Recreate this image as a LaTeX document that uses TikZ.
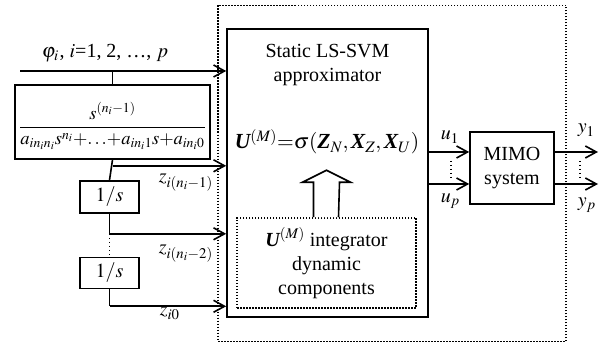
\documentclass[tikz,border=0pt]{standalone}
\usepackage{amsmath}
\usepackage{mathptmx}
\usepackage{fontspec}
\setmainfont{Liberation Serif}
\usetikzlibrary{arrows.meta,calc}
\newcommand{\tbi}[1]{\text{\bfseries\itshape #1}}
\begin{document}
\begin{tikzpicture}[x=1pt,y=-1pt, line width=1.6pt,
  >={Straight Barb[length=11pt,width=12pt,line width=1.6pt]},
  box/.style={draw, line width=1.6pt, inner sep=0pt, font=\fontsize{20}{24}\selectfont, align=center},
  dotbox/.style={draw, line width=1.5pt, dash pattern=on 1.5pt off 1.5pt},
  dotline/.style={line width=1.5pt, dash pattern=on 1.5pt off 2.5pt},
  lbl/.style={font=\fontsize{20}{24}\selectfont, inner sep=0pt},
]
\useasboundingbox (0,0) rectangle (600,344);
% frames
\node[dotbox, minimum width=348pt, minimum height=336pt] (outer) at (392,173.5) {};
\node[box, minimum width=201pt, minimum height=288pt] (svm) at (327.5,173) {};
\node[dotbox, minimum width=179pt, minimum height=90pt] (inner) at (326.5,263) {};
\node[box, minimum width=195pt, minimum height=74pt] (tf) at (112.5,122) {};
\node[box, minimum width=59pt, minimum height=32pt] (int1) at (109.5,197) {$1/s$};
\node[box, minimum width=59pt, minimum height=31pt] (int2) at (109.5,273) {$1/s$};
\node[box, minimum width=84pt, minimum height=72pt] (mimo) at (512,168) {MIMO\\system};
% texts
\node[lbl, font=\fontsize{18.5}{22}\selectfont] (frac) at (112.5,126) {$\dfrac{s^{(n_i-1)}}{a_{in_in_i}s^{n_i}{+}{\ldots}{+}a_{in_i1}s{+}a_{in_i0}}$};
\node[lbl, align=center] (svmtxt) at (327.5,65) {Static LS-SVM\\approximator};
\node[lbl, anchor=base, font=\fontsize{21.5}{24}\selectfont] (form) at (327,149) {$\tbi{U}^{(M)}{=}\sigma(\tbi{Z}_N,\tbi{X}_Z,\tbi{X}_U)$};
\node[lbl, align=center] (intxt) at (326.5,263) {$\tbi{U}^{(M)}$ integrator\\dynamic\\components};
\node[lbl, anchor=base] (phil) at (105,58) {$\varphi_i$\kern1pt, $i$=1, 2, \dots, $p$};
\node[lbl, anchor=base west] (z1) at (158,183) {$z_{i(n_i-1)}$};
\node[lbl, anchor=base west] (z2) at (158,254) {$z_{i(n_i-2)}$};
\node[lbl, anchor=base west] (z0) at (159,316) {$z_{i0}$};
\node[lbl, anchor=base west] (u1l) at (440,140) {$u_1$};
\node[lbl, anchor=base west] (upl) at (440,203) {$u_p$};
\node[lbl, anchor=base west] (y1l) at (577,133) {$y_1$};
\node[lbl, anchor=base west] (ypl) at (577,207) {$y_p$};
% coordinates
\coordinate (phistart) at (20,71);
\coordinate (j0) at (tf.north |- phistart);
\coordinate (j1) at ($(tf.south)+(0,6)$);
\coordinate (j2) at ($(int1.south)+(0,20)$);
\coordinate (j3) at ($(int2.south)+(0,17)$);
\coordinate (u1) at ([yshift=16pt]mimo.west);
\coordinate (up) at ([yshift=-16pt]mimo.west);
\coordinate (y1) at (598,152);
\coordinate (yp) at (598,184);
% input connectors
\draw[->] (phistart) -- (phistart -| svm.west);
\draw (j0) -- (tf.north);
\draw (tf.south) -- (int1.north);
\draw[->] (j1) -- (j1 -| svm.west);
\draw (int1.south) -- (j2);
\draw[->] (j2) -- (j2 -| svm.west);
\draw[dotline] (j2) -- (int2.north);
\draw (int2.south) -- (j3);
\draw[->] (j3) -- (j3 -| svm.west);
% outputs
\draw[->] (u1 -| svm.east) -- (u1);
\draw[->] (up -| svm.east) -- (up);
\draw[->] (u1 -| mimo.east) -- (y1);
\draw[->] (up -| mimo.east) -- (yp);
\draw[dotline] (451,161) -- (451,178);
\draw[dotline] (580,161) -- (580,178);
% hollow arrow
\draw[fill=white, line join=miter] ([xshift=-13pt]inner.north) -- ++(0,-35) -- ++(-11,0) -- ++(24,-12) -- ++(24,12) -- ++(-11,0) -- ([xshift=12pt]inner.north);
\end{tikzpicture}
\end{document}
